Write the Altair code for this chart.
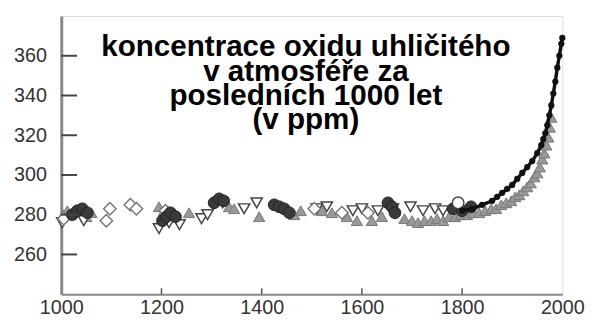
import altair as alt
import pandas as pd

# ---- data ----
x_ticks = [1000, 1200, 1400, 1600, 1800, 2000]
y_ticks = [260, 280, 300, 320, 340, 360]
inner_x_ticks = [1200, 1400, 1600, 1800]

diamond_year = [1005, 1090, 1097, 1138, 1150, 1208, 1505, 1560, 1612]
diamond_ppm = [278, 277, 283, 285, 283, 282, 283, 281, 281]

circle_year = [1022, 1032, 1042, 1052, 1202, 1210, 1218, 1228, 1305, 1315, 1324,
               1425, 1435, 1445, 1455, 1652, 1660, 1666, 1782, 1800, 1818]
circle_ppm = [280, 282, 283, 281, 277, 279, 281, 279, 286, 288, 287,
              285, 284, 283, 281, 286, 284, 281, 283, 282, 284]

open_circle_year = [1792]
open_circle_ppm = [286]

tri_up_year = [1004, 1012, 1050, 1060, 1195, 1205, 1255, 1335, 1345, 1395, 1465, 1478,
               1520, 1540, 1570, 1590, 1620, 1640, 1685, 1700, 1712, 1725, 1738, 1750,
               1762, 1774, 1786, 1798, 1810, 1822, 1834, 1846, 1858, 1868, 1878, 1888,
               1898, 1906, 1914, 1922, 1930, 1937, 1944, 1950, 1955, 1960, 1964, 1968,
               1972, 1975, 1978]
tri_up_ppm = [280, 282, 279, 281, 284, 282, 281, 284, 283, 279, 280, 282,
              282, 281, 279, 277, 277, 279, 278, 277, 276, 277, 277, 278,
              277, 279, 279, 280, 280, 281, 281, 282, 283, 283, 285, 286,
              287, 289, 290, 292, 294, 296, 299, 301, 304, 308, 311, 315,
              319, 324, 329]

tri_down_year = [1002, 1045, 1195, 1215, 1236, 1280, 1292, 1322, 1365, 1390, 1510,
                 1530, 1582, 1600, 1632, 1662, 1697, 1722, 1746, 1762]
tri_down_ppm = [276, 277, 273, 276, 275, 278, 280, 286, 283, 286, 283,
                284, 282, 283, 282, 283, 284, 282, 283, 282]

modern_year = [1800, 1820, 1840, 1860, 1870, 1880, 1890, 1900, 1910, 1920, 1930, 1940,
               1950, 1958, 1962, 1966, 1970, 1974, 1978, 1982, 1986, 1990, 1994, 1998, 2000]
modern_ppm = [282, 283, 285, 287, 289, 291, 293, 295, 298, 301, 304, 307,
              311, 315, 318, 321, 325, 330, 335, 341, 347, 354, 360, 366, 369]

title_lines = ["koncentrace oxidu uhličitého", "v atmosféře za",
               "posledních 1000 let", "(v ppm)"]

W, H = 508, 282

def df(years, ppm):
    return pd.DataFrame({"year": years, "ppm": ppm})

xs = alt.Scale(domain=[1000, 2000], nice=False, zero=False)
ys = alt.Scale(domain=[240, 380], nice=False, zero=False)

X_axis = alt.X("year:Q", scale=xs, title=None,
               axis=alt.Axis(values=x_ticks, format="d", tickSize=0, grid=False,
                             labelFont="Liberation Sans", labelFontSize=20,
                             labelColor="#333", labelPadding=4,
                             domainColor="#888", domainWidth=2, labelFlush=False))
Y_axis = alt.Y("ppm:Q", scale=ys, title=None,
               axis=alt.Axis(values=y_ticks, tickSize=0, grid=False,
                             labelFont="Liberation Sans", labelFontSize=20,
                             labelColor="#333", labelPadding=15,
                             domainColor="#888", domainWidth=3))
X = alt.X("year:Q", scale=xs, axis=None)
Y = alt.Y("ppm:Q", scale=ys, axis=None)

left_ticks = alt.Chart(pd.DataFrame({"ppm": y_ticks})).mark_rule(
    color="#444", strokeWidth=2).encode(
    x=alt.value(0), x2=alt.value(16), y=Y)

bottom_ticks = alt.Chart(pd.DataFrame({"year": inner_x_ticks})).mark_rule(
    color="#555", strokeWidth=1.5).encode(
    x=X, y=alt.value(H), y2=alt.value(H - 6))

def pts(data, axes=False, **kw):
    return alt.Chart(data).mark_point(opacity=1, **kw).encode(
        x=X_axis if axes else X, y=Y_axis if axes else Y)

tri_up = pts(df(tri_up_year, tri_up_ppm), axes=True, shape="triangle-up", size=130,
             filled=True, fill="#999", stroke="#777", strokeWidth=1)
tri_down = pts(df(tri_down_year, tri_down_ppm), shape="triangle-down", size=130,
               fill="white", stroke="#444", strokeWidth=1.5)
diamonds = pts(df(diamond_year, diamond_ppm), shape="diamond", size=160,
               fill="white", stroke="#777", strokeWidth=1.5)
circles = pts(df(circle_year, circle_ppm), shape="circle", size=140,
              filled=True, fill="#3a3a3a", stroke="#222", strokeWidth=1)
open_circles = pts(df(open_circle_year, open_circle_ppm), shape="circle", size=140,
                   fill="white", stroke="#444", strokeWidth=1.5)

modern_line = alt.Chart(df(modern_year, modern_ppm)).mark_line(
    color="#111", strokeWidth=3.5).encode(x=X, y=Y)
modern_pts = pts(df(modern_year, modern_ppm), shape="circle", size=40,
                 filled=True, fill="#111", strokeWidth=0)

title = alt.Chart(pd.DataFrame({"t": [title_lines]})).mark_text(
    font="Liberation Sans", fontWeight="bold", fontSize=30, lineHeight=24.5,
    color="#000", align="center", baseline="alphabetic").encode(
    text="t", x=alt.value(248), y=alt.value(41))

chart = alt.layer(
    tri_up, tri_down, diamonds, circles, open_circles, modern_line, modern_pts,
    left_ticks, bottom_ticks, title
).resolve_axis(x="independent", y="independent").properties(
    width=W, height=H,
    autosize=alt.AutoSizeParams(type="none"),
    padding={"left": 54, "top": 6, "right": 24, "bottom": 22},
).configure_view(stroke="#888", strokeWidth=2).configure(background="white")

chart.save("out.html", embed_options={"renderer": "svg", "actions": False})
